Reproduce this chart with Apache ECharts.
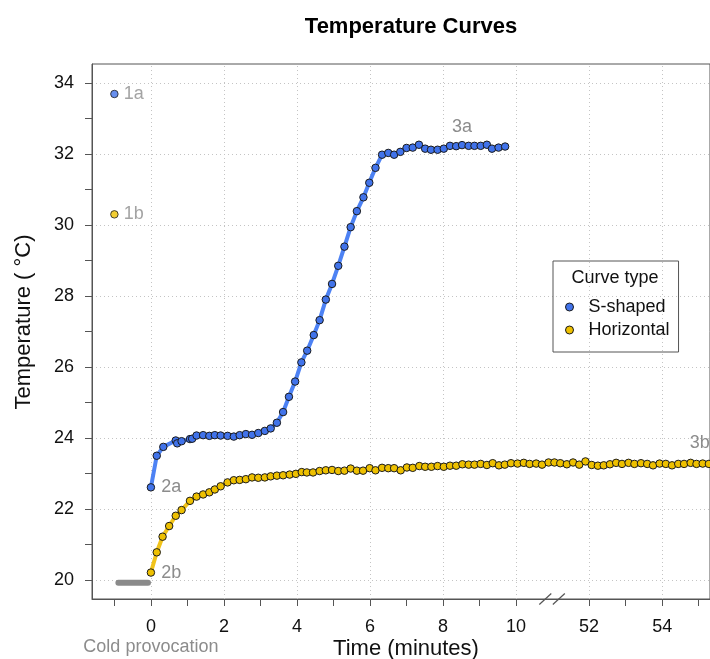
<!DOCTYPE html>
<html>
<head>
<meta charset="utf-8">
<script src="https://cdn.jsdelivr.net/npm/echarts@6/dist/echarts.min.js"></script>
<style>
html,body{margin:0;padding:0;background:#fff;}
#main{width:710px;height:659px;}
</style>
</head>
<body>
<div id="main"></div>
<script>
// ---------- data ----------
const chartTitle = 'Temperature Curves';
const xAxisTitle = 'Time (minutes)';
const yAxisTitle = 'Temperature ( °C)';
const legendTitle = 'Curve type';
const seriesNames = ['S-shaped', 'Horizontal'];

// time in minutes (real), S-shaped curve
const sTime = [0, 0.16, 0.34, 0.68, 0.72, 0.84, 1.07, 1.13, 1.25, 1.43, 1.60, 1.75, 1.91, 2.10, 2.27, 2.43, 2.60, 2.77, 2.94, 3.12,
  3.28, 3.45, 3.62, 3.78, 3.95, 4.12, 4.28, 4.46, 4.62, 4.79, 4.96, 5.13, 5.30, 5.47, 5.64, 5.82, 5.98, 6.15, 6.33, 6.50,
  6.66, 6.83, 7.00, 7.17, 7.34, 7.51, 7.67, 7.85, 8.02, 8.19, 8.36, 8.52, 8.70, 8.86, 9.03, 9.20, 9.34, 9.52, 9.70];
const sTemp = [22.61, 23.50, 23.75, 23.93, 23.85, 23.91, 23.97, 23.98, 24.07, 24.08, 24.06, 24.08, 24.07, 24.06, 24.04, 24.08, 24.11, 24.09, 24.14, 24.20,
  24.27, 24.43, 24.73, 25.16, 25.59, 26.13, 26.46, 26.90, 27.32, 27.90, 28.34, 28.85, 29.39, 29.94, 30.39, 30.78, 31.19, 31.61, 31.98, 32.03,
  31.98, 32.06, 32.17, 32.18, 32.26, 32.15, 32.12, 32.12, 32.15, 32.23, 32.22, 32.25, 32.23, 32.23, 32.23, 32.26, 32.15, 32.18, 32.21];

// Horizontal curve
const hTime = [0, 0.16, 0.32, 0.50, 0.68, 0.84, 1.07, 1.25, 1.43, 1.60, 1.75, 1.91, 2.10, 2.27, 2.43, 2.60, 2.77, 2.94, 3.12, 3.28,
  3.45, 3.62, 3.80, 3.97, 4.13, 4.27, 4.44, 4.62, 4.79, 4.96, 5.13, 5.30, 5.47, 5.64, 5.81, 5.99, 6.15, 6.33, 6.50, 6.66,
  6.84, 7.01, 7.17, 7.35, 7.51, 7.68, 7.85, 8.02, 8.19, 8.36, 8.53, 8.70, 8.86, 9.03, 9.20, 9.36, 9.53, 9.69, 9.86, 10.04,
  10.21, 10.37, 10.55, 10.71, 10.89, 51.05, 51.21, 51.39, 51.56, 51.73, 51.90, 52.07, 52.24, 52.40, 52.57, 52.74, 52.90, 53.08, 53.24, 53.42,
  53.59, 53.75, 53.93, 54.10, 54.27, 54.44, 54.60, 54.78, 54.94, 55.11, 55.28];
const hTemp = [20.21, 20.78, 21.22, 21.52, 21.81, 21.97, 22.23, 22.35, 22.41, 22.47, 22.55, 22.64, 22.75, 22.81, 22.82, 22.84, 22.89, 22.88, 22.89, 22.92,
  22.94, 22.95, 22.97, 22.99, 23.04, 23.03, 23.03, 23.07, 23.09, 23.10, 23.07, 23.08, 23.14, 23.08, 23.08, 23.15, 23.09, 23.16, 23.15, 23.15,
  23.09, 23.17, 23.16, 23.21, 23.19, 23.19, 23.21, 23.19, 23.22, 23.22, 23.26, 23.25, 23.25, 23.27, 23.24, 23.29, 23.23, 23.25, 23.29, 23.28,
  23.30, 23.27, 23.28, 23.25, 23.31, 23.31, 23.29, 23.26, 23.31, 23.25, 23.34, 23.24, 23.22, 23.23, 23.26, 23.30, 23.27, 23.30, 23.27, 23.29,
  23.27, 23.23, 23.28, 23.27, 23.23, 23.27, 23.27, 23.30, 23.27, 23.28, 23.27];

// baseline (before cold provocation)
const baselineTime = -1;
const baselineS = 33.69;
const baselineH = 30.30;

// cold provocation bar
const coldLabel = 'Cold provocation';
const coldStart = -0.89;
const coldEnd = -0.08;
const coldLevel = 19.92;

// point annotations
const labelBaselineS = '1a', labelBaselineH = '1b';
const labelStartS = '2a', labelStartH = '2b';
const labelPlateauS = '3a', labelPlateauH = '3b';
const plateauTimeS = 8.52, plateauTimeH = 55.11;

// axis ticks
const xTicks = [-1, 0, 1, 2, 3, 4, 5, 6, 7, 8, 9, 10, 52, 53, 54, 55];
const xLabels = [0, 2, 4, 6, 8, 10, 52, 54];
const yTicks = [20, 21, 22, 23, 24, 25, 26, 27, 28, 29, 30, 31, 32, 33, 34];
const yLabels = [20, 22, 24, 26, 28, 30, 32, 34];

// axis break (real minutes)
const breakFrom = 11, breakTo = 51;
const breakMarkAt = [10.8, 11.17]; // axis positions of the "//" marks

// ---------- helpers ----------
const shift = breakTo - breakFrom;
const toAxis = t => (t >= breakTo ? t - shift : t);
const fromAxis = v => (v > breakFrom ? v + shift : v);

const FONT = "'Liberation Sans', Arial, Helvetica, sans-serif";
const BLUE = '#4173ea', BLUE_LINE = '#4d82f4';
const GOLD = '#eec000', GOLD_LINE = '#f1c31a';
const GREY_TXT = '#8c8c8c';
const AXIS_COL = '#555';

function ptLabel(text, pos, dist) {
  return { show: true, formatter: text, position: pos, distance: dist, color: GREY_TXT, fontSize: 18, fontFamily: FONT };
}

const sData = sTime.map((t, i) => {
  const item = { value: [toAxis(t), sTemp[i]] };
  if (i === 0) item.label = ptLabel(labelStartS, 'right', 6);
  if (t === plateauTimeS) item.label = ptLabel(labelPlateauS, 'top', 5);
  return item;
});
const hData = hTime.map((t, i) => {
  const item = { value: [toAxis(t), hTemp[i]] };
  if (i === 0) item.label = ptLabel(labelStartH, 'right', 6);
  if (t === plateauTimeH) item.label = Object.assign(ptLabel(labelPlateauH, 'top', 7), { offset: [-3, 0] });
  return item;
});

const symbolStyle = (c) => ({ color: c, borderColor: '#1a1a1a', borderWidth: 1 });

const chart = echarts.init(document.getElementById('main'), null, { renderer: 'canvas' });

const option = {
  animation: false,
  textStyle: { fontFamily: FONT },
  title: {
    text: chartTitle, left: 411, top: 16, textAlign: 'center', padding: 0,
    textStyle: { fontSize: 22, fontWeight: 'bold', color: '#000', fontFamily: FONT }
  },
  grid: { left: 92, top: 64, right: -1, bottom: 60, show: true, borderColor: AXIS_COL, borderWidth: 1, containLabel: false },
  legend: {
    data: seriesNames, orient: 'vertical', left: 553, top: 261, icon: 'circle',
    itemWidth: 8, itemHeight: 8, itemGap: 3, padding: [36, 9, 12, 12],
    borderColor: AXIS_COL, borderWidth: 1, selectedMode: false,
    itemStyle: { borderColor: '#1a1a1a', borderWidth: 1 },
    textStyle: { fontSize: 18, color: '#111', fontFamily: FONT, lineHeight: 20, padding: [0, 0, 0, 10] }
  },
  xAxis: {
    type: 'value', min: -1.613, max: 15.31,
    axisLine: { show: true, onZero: false, lineStyle: { color: AXIS_COL, width: 1 } },
    axisTick: { show: true, length: 7, customValues: xTicks.map(toAxis), lineStyle: { color: AXIS_COL } },
    axisLabel: {
      customValues: xLabels.map(toAxis), formatter: v => String(Math.round(fromAxis(v))),
      fontSize: 18, color: '#111', margin: 19, fontFamily: FONT
    },
    splitLine: { show: false }
  },
  yAxis: {
    type: 'value', min: 19.465, max: 34.535,
    axisLine: { show: true, onZero: false, lineStyle: { color: AXIS_COL, width: 1 } },
    axisTick: { show: true, length: 7, customValues: yTicks, lineStyle: { color: AXIS_COL } },
    axisLabel: { customValues: yLabels, fontSize: 18, color: '#111', margin: 18, fontFamily: FONT },
    splitLine: { show: false }
  },
  series: [
    {
      name: 'grid', type: 'line', data: [[0, 20]], symbol: 'none', silent: true, z: 0,
      lineStyle: { opacity: 0 },
      markLine: {
        z: 0, silent: true, symbol: 'none', label: { show: false }, animation: false,
        lineStyle: { type: [1, 3], color: '#c4c4c4', width: 1 },
        emphasis: { disabled: true },
        data: xLabels.map(v => ({ xAxis: toAxis(v) })).concat(yLabels.map(v => ({ yAxis: v })))
      }
    },
    {
      name: 'cold', type: 'line', data: [[coldStart, coldLevel], [coldEnd, coldLevel]],
      symbol: 'none', silent: true, z: 2,
      lineStyle: { color: '#8a8a8a', width: 6, cap: 'round' }
    },
    {
      name: seriesNames[1], type: 'line', data: hData, symbol: 'circle', symbolSize: 7.5,
      showSymbol: true, showAllSymbol: true, z: 3,
      lineStyle: { color: GOLD_LINE, width: 4 }, itemStyle: symbolStyle(GOLD),
      emphasis: { disabled: true }
    },
    {
      name: seriesNames[0], type: 'line', data: sData, symbol: 'circle', symbolSize: 7.5,
      showSymbol: true, showAllSymbol: true, z: 4,
      lineStyle: { color: BLUE_LINE, width: 4 }, itemStyle: symbolStyle(BLUE),
      emphasis: { disabled: true }
    },
    {
      name: seriesNames[0], type: 'scatter', symbolSize: 7.5, z: 4, itemStyle: symbolStyle(BLUE),
      data: [{ value: [baselineTime, baselineS], label: ptLabel(labelBaselineS, 'right', 5) }],
      emphasis: { disabled: true }
    },
    {
      name: seriesNames[1], type: 'scatter', symbolSize: 7.5, z: 4, itemStyle: symbolStyle(GOLD),
      data: [{ value: [baselineTime, baselineH], label: ptLabel(labelBaselineH, 'right', 5) }],
      emphasis: { disabled: true }
    }
  ]
};
chart.setOption(option);

// extra graphics: titles, legend heading, axis break marks
const yBottom = chart.convertToPixel({ yAxisIndex: 0 }, 19.465);
const gx0 = chart.convertToPixel({ xAxisIndex: 0 }, 0);
const breakMarks = breakMarkAt.map(v => {
  const px = chart.convertToPixel({ xAxisIndex: 0 }, v);
  return { type: 'line', shape: { x1: px - 6, y1: yBottom + 5.5, x2: px + 6, y2: yBottom - 5.5 },
    style: { stroke: AXIS_COL, lineWidth: 1.2 }, z: 100 };
});
chart.setOption({
  graphic: [
    { type: 'text', x: 406, y: 649, z: 100,
      style: { text: xAxisTitle, font: `22px ${FONT}`, fill: '#111', textAlign: 'center', textVerticalAlign: 'middle' } },
    { type: 'text', x: 24, y: 322, rotation: Math.PI / 2, z: 100,
      style: { text: yAxisTitle, font: `22px ${FONT}`, fill: '#111', textAlign: 'center', textVerticalAlign: 'middle' } },
    { type: 'text', x: gx0, y: 647, z: 100,
      style: { text: coldLabel, font: `18px ${FONT}`, fill: GREY_TXT, textAlign: 'center', textVerticalAlign: 'middle' } },
    { type: 'text', x: 615, y: 278, z: 100,
      style: { text: legendTitle, font: `18px ${FONT}`, fill: '#111', textAlign: 'center', textVerticalAlign: 'middle' } }
  ].concat(breakMarks)
});
</script>
</body>
</html>
